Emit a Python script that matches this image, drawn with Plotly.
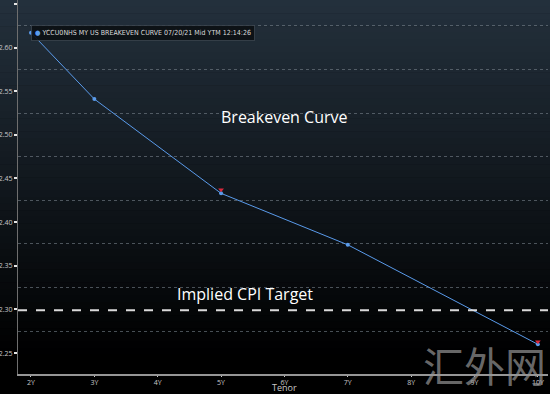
import plotly.graph_objects as go

tenor_years = [2, 3, 5, 7, 10]
breakeven = [2.617, 2.541, 2.433, 2.374, 2.260]
prior_years = [5, 10]
prior_values = [2.437, 2.263]
cpi_target = 2.299
tick_years = [2, 3, 4, 5, 6, 7, 8, 9, 10]
tick_labels = ["2Y", "3Y", "4Y", "5Y", "6Y", "7Y", "8Y", "9Y", "10Y"]
y_ticks = [2.25, 2.30, 2.35, 2.40, 2.45, 2.50, 2.55, 2.60, 2.65]
legend_name = "YCCU0NHS MY US BREAKEVEN CURVE 07/20/21 Mid YTM 12:14:26"

fig = go.Figure()

fig.add_trace(go.Scatter(
    x=tenor_years, y=breakeven, mode="lines+markers", name=legend_name, showlegend=False,
    line=dict(color="rgb(90,155,235)", width=1),
    marker=dict(color="rgb(90,155,235)", size=4),
))
fig.add_trace(go.Scatter(
    x=prior_years, y=prior_values, mode="markers", showlegend=False,
    marker=dict(color="rgb(220,40,60)", size=5, symbol="triangle-down"),
))

# gradient background bands
top = (36, 49, 61)
n = 60
shapes = []
ph = 374.0
for i in range(n):
    p0 = 394 * i / n
    p1 = 394 * (i + 1) / n + 0.5
    t = (i + 0.5) / n
    f = max(0.0, 1 - 1.1 * t)
    c = "rgb(%d,%d,%d)" % (top[0] * f, top[1] * f, top[2] * f)
    shapes.append(dict(type="rect", xref="paper", yref="paper",
                       x0=-0.05, x1=1.05, y0=(ph - p1) / ph, y1=(ph - p0) / ph,
                       fillcolor=c, line=dict(width=0), layer="below"))
shapes.append(dict(type="line", xref="paper", yref="y", x0=0, x1=1,
                   y0=cpi_target, y1=cpi_target,
                   line=dict(color="rgba(230,230,230,0.95)", width=2, dash="dash")))

fig.update_layout(
    width=550, height=394,
    margin=dict(l=18, r=2, t=0, b=20, autoexpand=False),
    paper_bgcolor="black", plot_bgcolor="rgba(0,0,0,0)",
    shapes=shapes,
    font=dict(family="Open Sans, DejaVu Sans, sans-serif", color="rgb(200,200,200)"),
    showlegend=False,
    xaxis=dict(range=[1.795, 10.16], tickvals=tick_years, ticktext=tick_labels, automargin=False,
               showgrid=False, zeroline=False, showline=True, linecolor="rgb(150,150,150)", linewidth=2,
               ticks="outside", ticklen=1, tickcolor="rgb(200,200,200)",
               tickfont=dict(size=7, color="rgb(200,200,200)")),
    yaxis=dict(range=[2.226, 2.6545], tickvals=y_ticks, ticktext=["%.2f" % v for v in y_ticks],
               automargin=False,
               showgrid=False, zeroline=False, showline=True, linecolor="rgb(110,110,110)", linewidth=1,
               ticks="outside", ticklen=3, tickwidth=2, tickcolor="rgb(230,230,230)",
               tickfont=dict(size=7, color="rgb(200,200,200)"),
               minor=dict(tick0=2.225, dtick=0.05, showgrid=True, griddash="dot",
                          gridcolor="rgba(120,130,140,0.6)", gridwidth=1)),
    annotations=[
        dict(text="<span style='color:rgb(90,155,235)'>●</span> " + legend_name,
             x=0.024, y=0.933, xref="paper", yref="paper", xanchor="left", yanchor="top",
             showarrow=False, bgcolor="rgba(12,16,20,0.92)", bordercolor="rgba(60,70,80,0.8)",
             borderwidth=1, borderpad=3,
             font=dict(size=7, color="rgb(220,220,220)",
                       family="DejaVu Sans Condensed, Liberation Sans Narrow, sans-serif")),
        dict(text="Breakeven Curve", x=0.502, y=2.521, xref="paper", yref="y", showarrow=False,
             font=dict(size=16, color="white")),
        dict(text="Implied CPI Target", x=0.297, xref="paper", y=2.318, yref="y", showarrow=False,
             font=dict(size=16, color="white")),
        dict(text="Tenor", x=0.502, y=-0.037, xref="paper", yref="paper", showarrow=False,
             xanchor="center", yanchor="middle",
             font=dict(size=9, color="rgb(200,200,200)")),
        dict(text="汇外网", x=0.881, y=0.027, xref="paper", yref="paper", showarrow=False,
             xanchor="center", yanchor="middle",
             font=dict(size=41, color="rgba(150,150,150,0.7)", family="Noto Sans CJK SC")),
    ],
)

fig.write_html("out.html", config={"displayModeBar": False},
               post_script="document.body.style.margin='0';document.body.style.padding='0';"
                           "document.body.style.background='black';")
